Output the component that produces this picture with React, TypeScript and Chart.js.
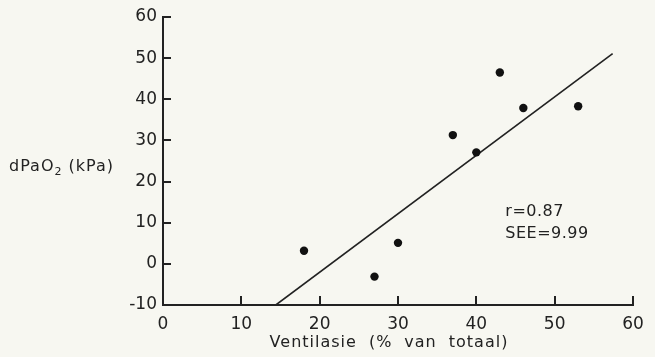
import React, { useEffect, useRef } from "react";
import { Chart, registerables } from "chart.js";

Chart.register(...registerables);

// Data
const ventilation = [18, 27, 30, 37, 40, 43, 46, 53];
const dPaO2 = [3.2, -3.1, 5.1, 31.3, 27.1, 46.5, 37.9, 38.3];
const fitX = [14.4, 57.4];
const fitY = [-10, 51.1];
const xTickStep = 10;
const yTickStep = 10;
const xRange = [0, 60];
const yRange = [-10, 60];
const statLines = ["r=0.87", "SEE=9.99"];
const xTitleWords = ["Ventilasie", "(%", "van", "totaal)"];
const yTitleParts = ["dPaO", "2", " (kPa)"];

const BG = "#f7f7f1";
const INK = "#222222";
const FONT = "'DejaVu Sans', sans-serif";

const decorPlugin = {
  id: "decor",
  beforeDraw(chart: any) {
    const ctx = chart.ctx;
    ctx.save();
    ctx.fillStyle = BG;
    ctx.fillRect(0, 0, chart.width, chart.height);
    ctx.restore();
  },
  afterDraw(chart: any) {
    const ctx = chart.ctx;
    const xs = chart.scales.x;
    const ys = chart.scales.y;
    const area = chart.chartArea;
    ctx.save();
    // inward tick marks
    ctx.strokeStyle = INK;
    ctx.lineWidth = 2;
    ctx.beginPath();
    xs.ticks.forEach((t: any) => {
      const px = Math.round(xs.getPixelForValue(t.value));
      ctx.moveTo(px, area.bottom);
      ctx.lineTo(px, area.bottom - 9);
    });
    ys.ticks.forEach((t: any) => {
      const py = Math.round(ys.getPixelForValue(t.value));
      ctx.moveTo(area.left, py);
      ctx.lineTo(area.left + 8, py);
    });
    ctx.stroke();

    ctx.fillStyle = INK;
    ctx.textBaseline = "alphabetic";
    (ctx as any).letterSpacing = "1px";

    // y title
    ctx.font = `16px ${FONT}`;
    let x = 9;
    const yb = 171;
    ctx.fillText(yTitleParts[0], x, yb);
    x += ctx.measureText(yTitleParts[0]).width;
    ctx.font = `11px ${FONT}`;
    ctx.fillText(yTitleParts[1], x, yb + 4);
    x += ctx.measureText(yTitleParts[1]).width;
    ctx.font = `16px ${FONT}`;
    ctx.fillText(yTitleParts[2], x, yb);

    // x title
    ctx.font = `16px ${FONT}`;
    const gap = 12;
    const widths = xTitleWords.map((w) => ctx.measureText(w).width);
    const total = widths.reduce((a, b) => a + b, 0) + gap * (xTitleWords.length - 1);
    let wx = 389 - total / 2;
    xTitleWords.forEach((w, i) => {
      ctx.fillText(w, wx, 347);
      wx += widths[i] + gap;
    });

    // stats annotation
    (ctx as any).letterSpacing = "0.5px";
    ctx.font = `16px ${FONT}`;
    const ax = xs.getPixelForValue(43.7);
    ctx.fillText(statLines[0], ax, ys.getPixelForValue(11.7));
    ctx.fillText(statLines[1], ax, ys.getPixelForValue(6.3));
    ctx.restore();
  },
};

export default function App() {
  const ref = useRef<HTMLCanvasElement | null>(null);
  useEffect(() => {
    if (!ref.current) return;
    const points = ventilation.map((v, i) => ({ x: v, y: dPaO2[i] }));
    const fit = fitX.map((v, i) => ({ x: v, y: fitY[i] }));
    const chart = new Chart(ref.current, {
      type: "scatter",
      data: {
        datasets: [
          {
            data: points,
            pointRadius: 4.2,
            pointBackgroundColor: "#111",
            pointBorderWidth: 0,
            showLine: false,
          },
          {
            type: "line",
            data: fit,
            borderColor: INK,
            borderWidth: 1.6,
            pointRadius: 0,
            showLine: true,
            fill: false,
          } as any,
        ],
      },
      options: {
        animation: false,
        responsive: false,
        events: [],
        layout: { padding: { top: 17, right: 22, left: 0, bottom: 0 } },
        plugins: { legend: { display: false }, tooltip: { enabled: false } },
        scales: {
          x: {
            type: "linear",
            min: xRange[0],
            max: xRange[1],
            ticks: {
              stepSize: xTickStep,
              color: INK,
              font: { family: FONT, size: 17 },
              padding: 9,
              maxRotation: 0,
            },
            grid: { display: true, drawOnChartArea: false, drawTicks: false },
            border: { display: true, color: INK, width: 2 },
            afterFit: (s: any) => {
              s.height = 52;
            },
          },
          y: {
            type: "linear",
            min: yRange[0],
            max: yRange[1],
            ticks: {
              stepSize: yTickStep,
              color: INK,
              font: { family: FONT, size: 17 },
              padding: 6,
            },
            grid: { display: true, drawOnChartArea: false, drawTicks: false },
            border: { display: true, color: INK, width: 2 },
            afterFit: (s: any) => {
              s.width = 163;
            },
          },
        },
      },
      plugins: [decorPlugin],
    });
    return () => chart.destroy();
  }, []);
  return (
    <div style={{ position: "absolute", left: 0, top: 0, width: 655, height: 357, background: BG }}>
      <canvas ref={ref} width={655} height={357} style={{ display: "block" }} />
    </div>
  );
}
